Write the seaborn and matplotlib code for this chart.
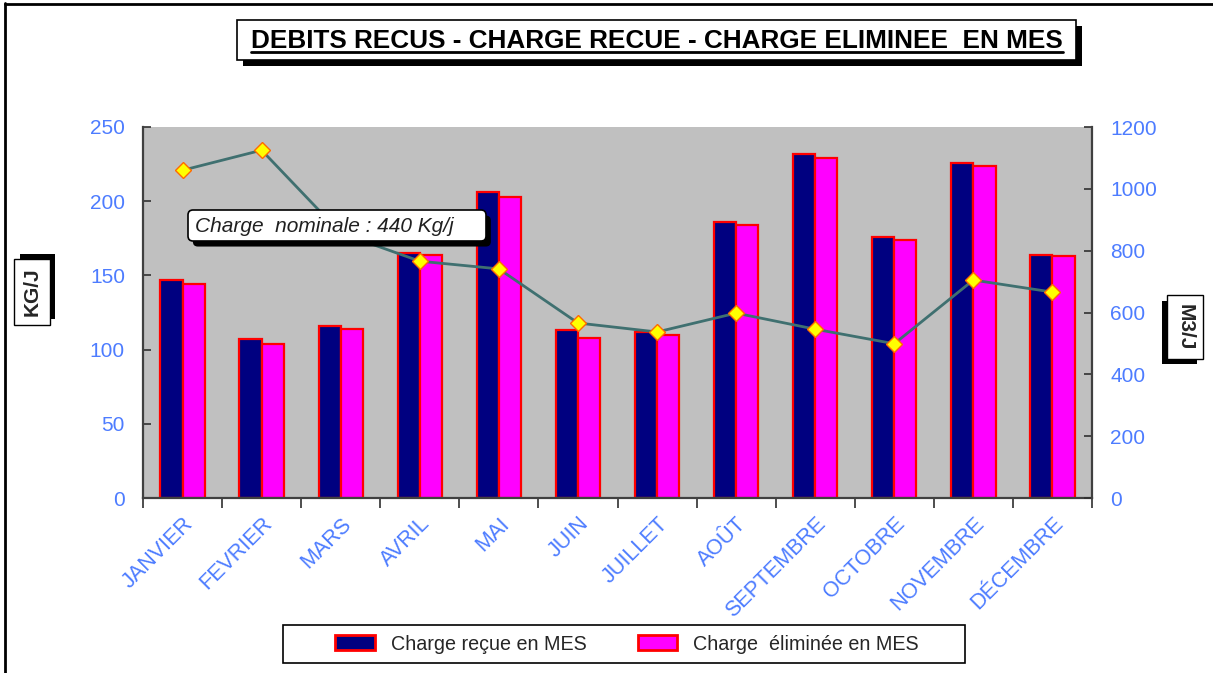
import matplotlib
matplotlib.use("Agg")

import numpy as np
import pandas as pd
import matplotlib.pyplot as plt
import seaborn as sns
from matplotlib import patheffects as pe
from matplotlib.patches import Rectangle, FancyBboxPatch, Patch
from matplotlib.lines import Line2D

months = ["JANVIER", "FEVRIER", "MARS", "AVRIL", "MAI", "JUIN", "JUILLET",
          "AOÛT", "SEPTEMBRE", "OCTOBRE", "NOVEMBRE", "DÉCEMBRE"]
charge_recue = [147, 107, 116, 165, 206, 113, 112, 186, 232, 176, 226, 164]
charge_eliminee = [144, 104, 114, 164, 203, 108, 110, 184, 229, 174, 224, 163]
debits = [1060, 1125, 857, 766, 741, 566, 537, 598, 546, 499, 705, 666]
series_names = ["Charge reçue en MES", "Charge  éliminée en MES"]
left_ticks = [0, 50, 100, 150, 200, 250]
right_ticks = [0, 200, 400, 600, 800, 1000, 1200]

sns.set_style("white")
plt.rcParams["font.family"] = ["Liberation Sans", "DejaVu Sans"]

BLUE = "#4d7cff"
W, H = 1213, 673
fig = plt.figure(figsize=(W / 100, H / 100), dpi=100)


def fx(px):
    return px / W


def fy(py):
    return 1 - py / H


def inch(px, py):
    # pixel position (top-left origin) -> inches for dpi_scale_trans
    return px / 100, (H - py) / 100


ax = fig.add_axes([fx(143), fy(498), fx(1092) - fx(143), fy(127) - fy(498)])
ax.set_facecolor("#c0c0c0")

df = pd.DataFrame({
    "mois": months * 2,
    "valeur": charge_recue + charge_eliminee,
    "serie": [series_names[0]] * len(months) + [series_names[1]] * len(months),
})
sns.barplot(data=df, x="mois", y="valeur", hue="serie",
            palette=["#000080", "#ff00ff"], saturation=1, width=0.56, gap=0,
            edgecolor="#ff0000", linewidth=1.6, ax=ax, legend=False)

ax.set_ylim(0, 250)
ax.set_yticks(left_ticks)
ax.set_xlim(-0.5, len(months) - 0.5)
ax.set_xlabel("")
ax.set_ylabel("")
ax.set_xticks(np.arange(len(months)))
ax.set_xticklabels(months, rotation=45, ha="right", rotation_mode="anchor")
ax.set_xticks(np.arange(len(months) + 1) - 0.5, minor=True)
ax.tick_params(axis="x", which="major", length=0, pad=11, labelsize=15.5,
               labelcolor=BLUE)
ax.tick_params(axis="x", which="minor", bottom=True, direction="out",
               length=7, width=1.2, color="#303030")
ax.tick_params(axis="y", left=True, direction="in", length=6, width=1.2,
               color="#303030", pad=13, labelsize=15, labelcolor=BLUE)
for s in ["top", "right"]:
    ax.spines[s].set_visible(False)
for s in ["left", "bottom"]:
    ax.spines[s].set_color("#404040")
    ax.spines[s].set_linewidth(1.6)

ax2 = ax.twinx()
sns.lineplot(x=np.arange(len(months)), y=debits, ax=ax2, color="#3f7070",
             linewidth=2, marker="D", markersize=8, markerfacecolor="#ffff00",
             markeredgecolor="#ff6a00", markeredgewidth=1)
ax2.set_ylim(0, 1200)
ax2.set_yticks(right_ticks)
ax2.set_xlim(-0.5, len(months) - 0.5)
ax2.set_ylabel("")
ax2.tick_params(axis="y", right=True, direction="in", length=6, width=1.2,
                color="#303030", pad=13, labelsize=15, labelcolor=BLUE)
for s in ["top", "left", "bottom"]:
    ax2.spines[s].set_visible(False)
ax2.spines["right"].set_color("#404040")
ax2.spines["right"].set_linewidth(1.6)

# title box with shadow
tr = fig.dpi_scale_trans
x0, y0 = inch(237, 60)
x1, y1 = inch(1076, 20)
title_box = Rectangle((x0, y0), x1 - x0, y1 - y0, transform=tr,
                      facecolor="white", edgecolor="black", lw=1.2, zorder=5)
title_box.set_path_effects([pe.SimplePatchShadow(offset=(4.5, -4.5),
                                                 shadow_rgbFace="black", alpha=1),
                            pe.Normal()])
fig.add_artist(title_box)
title = fig.text(fx(657), fy(41), "DEBITS RECUS - CHARGE RECUE - CHARGE ELIMINEE  EN MES",
                 ha="center", va="center", fontsize=18.8, fontweight="bold",
                 color="black", zorder=6)

# nominal charge callout
x0, y0 = inch(188, 241)
x1, y1 = inch(486, 210)
note_box = FancyBboxPatch((x0, y0), x1 - x0, y1 - y0, transform=tr,
                          boxstyle="round,pad=0,rounding_size=0.05",
                          facecolor="white", edgecolor="black", lw=1.2, zorder=5)
note_box.set_path_effects([pe.SimplePatchShadow(offset=(3.5, -4),
                                                shadow_rgbFace="black", alpha=1),
                           pe.Normal()])
fig.add_artist(note_box)
fig.text(fx(195), fy(227), "Charge  nominale : 440 Kg/j", ha="left", va="center",
         fontsize=15, fontstyle="italic", color="#202020", zorder=6)

# axis labels in shadowed boxes
kg = fig.text(fx(32), fy(292), "KG/J", rotation=90, ha="center", va="center",
              fontsize=15, fontweight="bold", zorder=6,
              bbox=dict(boxstyle="square,pad=0.4", fc="white", ec="black", lw=1))
kg.get_bbox_patch().set_path_effects([pe.SimplePatchShadow(offset=(4, 4),
                                                           shadow_rgbFace="black", alpha=1),
                                      pe.Normal()])
m3 = fig.text(fx(1185), fy(327), "M3/J", rotation=270, ha="center", va="center",
              fontsize=15, fontweight="bold", zorder=6,
              bbox=dict(boxstyle="square,pad=0.4", fc="white", ec="black", lw=1))
m3.get_bbox_patch().set_path_effects([pe.SimplePatchShadow(offset=(-4, -4),
                                                           shadow_rgbFace="black", alpha=1),
                                      pe.Normal()])

# legend
x0, y0 = inch(283, 663)
x1, y1 = inch(965, 625)
fig.add_artist(Rectangle((x0, y0), x1 - x0, y1 - y0, transform=tr,
                         facecolor="white", edgecolor="black", lw=1.2, zorder=4))
handles = [Patch(facecolor=c, edgecolor="#ff0000", lw=2)
           for c in ["#000080", "#ff00ff"]]
leg = fig.legend(handles, series_names, loc="center", bbox_to_anchor=(fx(627), fy(644)),
                 ncol=2, frameon=False, fontsize=14.2, handlelength=2.0,
                 handleheight=0.8, columnspacing=2.6, handletextpad=0.8)
leg.set_zorder(6)

# outer frame lines
fig.add_artist(Line2D([fx(5), fx(5)], [fy(3), 0], color="black", lw=2))
fig.add_artist(Line2D([fx(5), 1], [fy(4), fy(4)], color="black", lw=2))

# underline for title
fig.canvas.draw()
bb = title.get_window_extent(fig.canvas.get_renderer())
fig.add_artist(Line2D([bb.x0 / W, bb.x1 / W], [(bb.y0 + 1) / H, (bb.y0 + 1) / H],
                      color="black", lw=2, zorder=6))

fig.savefig("out.png", dpi=100, facecolor="white")
